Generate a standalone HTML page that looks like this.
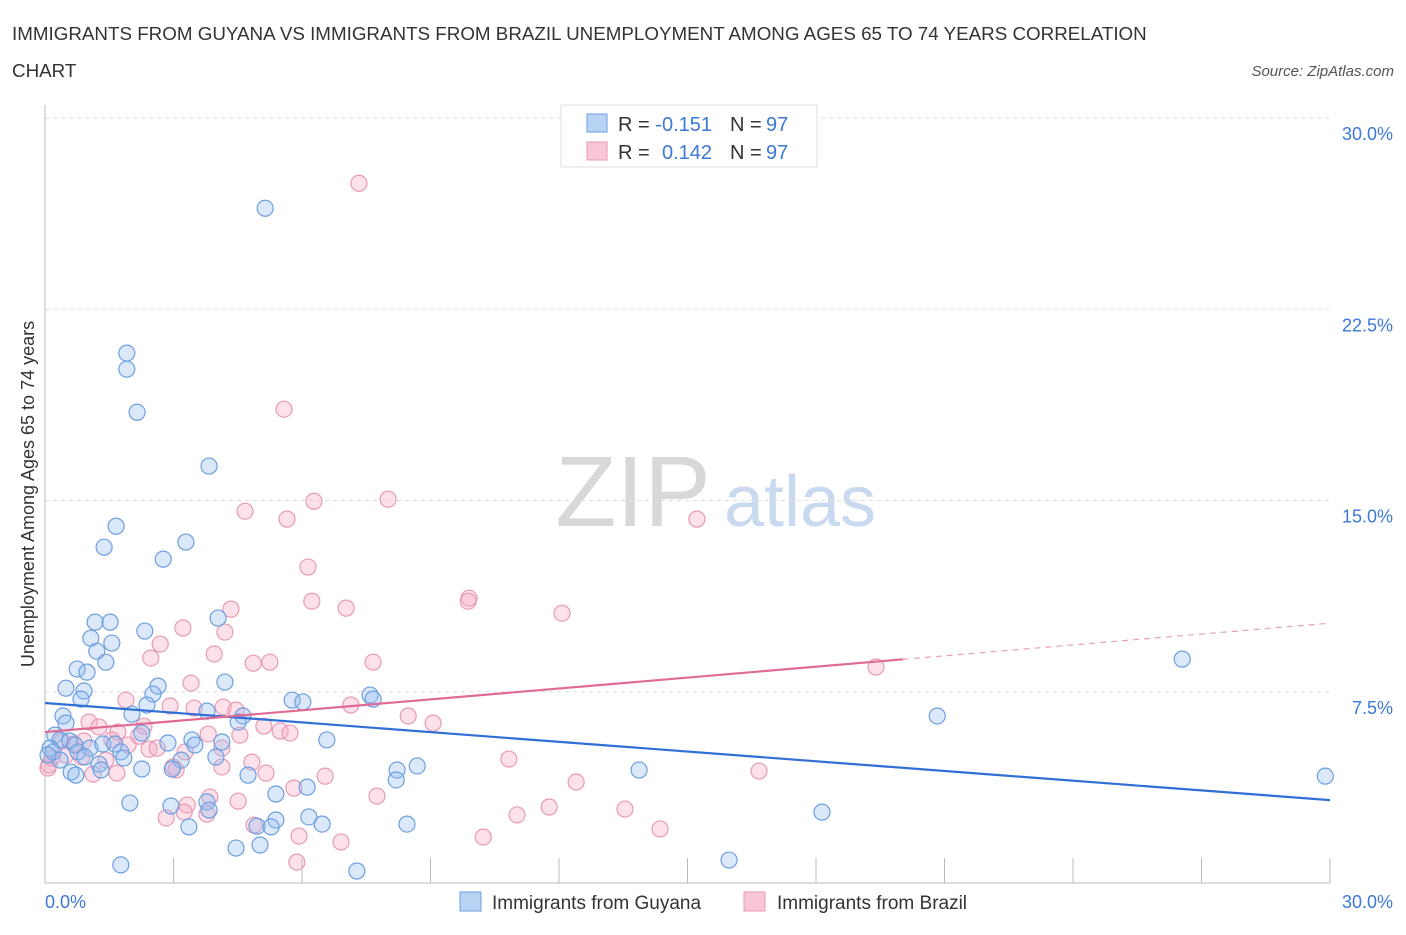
<!DOCTYPE html>
<html><head><meta charset="utf-8"><style>
body{margin:0;background:#fff;font-family:"Liberation Sans",sans-serif;}
svg text{font-family:"Liberation Sans",sans-serif;}
</style></head><body>
<svg id="chart" width="1406" height="930" xmlns="http://www.w3.org/2000/svg">
<text x="12" y="40" font-size="18.8" fill="#333">IMMIGRANTS FROM GUYANA VS IMMIGRANTS FROM BRAZIL UNEMPLOYMENT AMONG AGES 65 TO 74 YEARS CORRELATION</text>
<text x="12" y="77" font-size="18.8" fill="#333">CHART</text>
<text x="1394" y="76" font-size="15" fill="#555" text-anchor="end" font-style="italic">Source: ZipAtlas.com</text>
<g>
<text x="633" y="526" font-size="100" fill="#d8d8d8" text-anchor="middle" font-family="Liberation Serif">ZIP</text>
<text x="800" y="526" font-size="72" fill="#c9daf0" text-anchor="middle">atlas</text>
</g>
<g id="grid"></g><g id="axes"></g><g id="pinkpts"></g><g id="bluepts"></g><g id="trends"></g>
<text transform="translate(34,494) rotate(-90)" font-size="18" fill="#333" text-anchor="middle">Unemployment Among Ages 65 to 74 years</text>
<g>
<rect x="561" y="105" width="256" height="62" fill="#fff" stroke="#ddd"/>
<rect x="587" y="114" width="20" height="18" fill="#b9d3f5" stroke="#6d9fe0"/>
<rect x="587" y="142" width="20" height="18" fill="#f8c6d6" stroke="#e89ab5"/>
<text x="618" y="131" font-size="20" fill="#333">R =</text>
<text x="712" y="131" font-size="20" fill="#3c78d8" text-anchor="end">-0.151</text>
<text x="730" y="131" font-size="20" fill="#333">N =</text>
<text x="766" y="131" font-size="20" fill="#3c78d8">97</text>
<text x="618" y="159" font-size="20" fill="#333">R =</text>
<text x="712" y="159" font-size="20" fill="#3c78d8" text-anchor="end">0.142</text>
<text x="730" y="159" font-size="20" fill="#333">N =</text>
<text x="766" y="159" font-size="20" fill="#3c78d8">97</text>
</g>
<g>
<rect x="460" y="892" width="21" height="19" fill="#b9d3f5" stroke="#6d9fe0"/>
<text x="492" y="909" font-size="19" fill="#333">Immigrants from Guyana</text>
<rect x="744" y="892" width="21" height="19" fill="#f8c6d6" stroke="#e89ab5"/>
<text x="777" y="909" font-size="19" fill="#333">Immigrants from Brazil</text>
</g>
</svg>
<script>
const yTicks=[7.5,15,22.5,30];
const yTickLabels=["7.5%","15.0%","22.5%","30.0%"];
const xTicks=[0,3,6,9,12,15,18,21,24,27,30];
const xEndLabels=["0.0%","30.0%"];
const blueX=[5.14,1.91,1.91,2.15,3.83,1.66,1.38,3.29,2.76,4.04,1.17,1.52,2.33,1.07,1.56,1.21,1.42,0.75,0.98,0.91,0.49,2.64,2.52,0.84,4.20,3.78,5.77,6.02,7.59,7.66,2.38,2.03,0.42,0.49,4.62,4.51,20.83,26.55,0.23,0.35,0.58,0.70,0.12,0.19,0.77,1.05,1.35,1.63,1.77,2.26,2.87,3.43,3.50,4.13,6.58,0.93,1.26,1.84,3.18,3.99,1.31,0.61,0.72,2.26,2.97,8.22,8.69,13.87,29.89,4.74,8.20,6.12,5.39,1.98,2.94,3.78,3.83,6.16,6.47,5.39,4.95,5.28,8.45,18.14,3.36,4.46,5.02,1.77,7.28,15.97,0.35,0.07];
const blueY=[26.46,20.78,20.15,18.46,16.35,13.99,13.17,13.37,12.70,10.39,10.23,10.23,9.88,9.60,9.41,9.09,8.66,8.39,8.27,7.53,7.64,7.72,7.41,7.21,7.88,6.74,7.17,7.10,7.37,7.21,6.98,6.62,6.55,6.27,6.55,6.31,6.55,8.78,5.80,5.61,5.57,5.41,5.29,5.14,5.14,5.29,5.45,5.45,5.14,5.88,5.49,5.61,5.41,5.53,5.61,4.94,4.66,4.90,4.82,4.94,4.43,4.35,4.23,4.47,4.47,4.43,4.59,4.43,4.19,4.23,4.04,3.76,3.49,3.14,3.02,3.18,2.86,2.59,2.31,2.47,2.23,2.20,2.31,2.78,2.20,1.37,1.49,0.71,0.47,0.90,4.82,5.02];
const pinkX=[7.33,5.58,8.01,6.28,4.67,5.65,15.22,6.14,9.90,9.88,6.23,7.03,4.34,12.07,3.22,4.20,2.69,3.95,2.47,7.66,4.86,5.25,19.40,3.41,1.89,2.92,3.48,4.16,4.46,2.31,1.03,1.26,1.70,2.19,3.81,4.55,5.11,5.49,5.72,7.14,8.48,9.06,0.40,0.68,0.91,1.56,1.94,2.43,2.62,3.27,4.13,0.49,0.86,1.42,2.99,4.13,4.83,10.83,1.12,1.68,3.06,5.16,6.54,12.40,16.67,5.81,3.85,7.75,4.51,3.32,11.77,13.54,2.83,3.25,3.78,4.88,5.93,6.91,10.23,11.02,14.36,5.88,0.09,0.16,0.07];
const pinkY=[27.44,18.58,15.05,14.97,14.58,14.27,14.27,12.39,11.17,11.05,11.05,10.78,10.74,10.58,10.00,9.84,9.37,8.98,8.82,8.66,8.62,8.66,8.47,7.84,7.17,6.94,6.86,6.90,6.78,6.15,6.31,6.12,5.92,5.76,5.84,5.80,6.15,5.96,5.88,6.98,6.55,6.27,5.57,5.45,5.57,5.61,5.41,5.25,5.29,5.14,5.29,5.02,4.94,4.82,4.55,4.55,4.74,4.86,4.27,4.31,4.43,4.31,4.19,3.96,4.39,3.72,3.37,3.41,3.21,3.06,2.98,2.90,2.55,2.78,2.70,2.27,1.84,1.61,1.80,2.67,2.12,0.82,4.63,4.90,4.51];
const blueTrend=[7.06,3.25];
const pinkTrend=[5.92,10.19];
const pinkSolidEnd=20.03;
const NS="http://www.w3.org/2000/svg";
const X0=45,X1=1330,Y0=883,Y1=118;
const sx=v=>X0+(v/30)*(X1-X0);
const sy=v=>Y0-(v/30)*(Y0-Y1);
function mk(tag,attrs,parent){const e=document.createElementNS(NS,tag);for(const k in attrs)e.setAttribute(k,attrs[k]);parent.appendChild(e);return e;}
const grid=document.getElementById('grid'),axes=document.getElementById('axes');
let g=mk('line',{x1:X0,x2:X1,y1:sy(30),y2:sy(30),stroke:'#ddd','stroke-dasharray':'4,4'},grid);


yTicks.forEach((t,i)=>{
 const l=mk('line',{x1:X0,x2:X1,y1:sy(t),y2:sy(t),stroke:'#ddd','stroke-dasharray':'4,4'},grid);
 
 
 const tx=mk('text',{x:1393,y:sy(t)+22,'font-size':18,fill:'#3c78d8','text-anchor':'end'},axes);
 tx.textContent=yTickLabels[i];
 
 
});
let ax=mk('line',{x1:X0,x2:X0,y1:105,y2:Y0,stroke:'#bbb'},axes);


ax=mk('line',{x1:X0,x2:X1,y1:Y0,y2:Y0,stroke:'#bbb'},axes);


xTicks.forEach(t=>{
 const l=mk('line',{x1:sx(t),x2:sx(t),y1:Y0,y2:Y0-25,stroke:'#bbb'},axes);
 
 
});
[[0,'start',45],[30,'end',1393]].forEach((d,i)=>{
 const tx=mk('text',{x:d[2],y:908,'font-size':18,fill:'#3c78d8','text-anchor':d[1]},axes);
 tx.textContent=xEndLabels[i];
 
 
});
function pts(xs,ys,parent,fill,stroke,name){
 xs.forEach((x,i)=>{
  const c=mk('circle',{cx:sx(x),cy:sy(ys[i]),r:8,fill:fill,stroke:stroke,'stroke-width':1.2},parent);
  
  
 });
}
pts(pinkX,pinkY,document.getElementById('pinkpts'),'rgba(245,170,195,0.35)','#e89ab5','brazil-point');
pts(blueX,blueY,document.getElementById('bluepts'),'rgba(150,190,240,0.35)','#6d9fe0','guyana-point');
const tr=document.getElementById('trends');
const pAt=x=>pinkTrend[0]+(pinkTrend[1]-pinkTrend[0])*x/30;
let t1=mk('line',{x1:sx(0),y1:sy(blueTrend[0]),x2:sx(30),y2:sy(blueTrend[1]),stroke:'#2f6fd6','stroke-width':2.2},tr);


let t2=mk('line',{x1:sx(0),y1:sy(pAt(0)),x2:sx(pinkSolidEnd),y2:sy(pAt(pinkSolidEnd)),stroke:'#e06a96','stroke-width':2.2},tr);


let t3=mk('line',{x1:sx(pinkSolidEnd),y1:sy(pAt(pinkSolidEnd)),x2:sx(30),y2:sy(pAt(30)),stroke:'#e8a0bb','stroke-width':1.2,'stroke-dasharray':'6,5'},tr);


</script>
</body></html>
